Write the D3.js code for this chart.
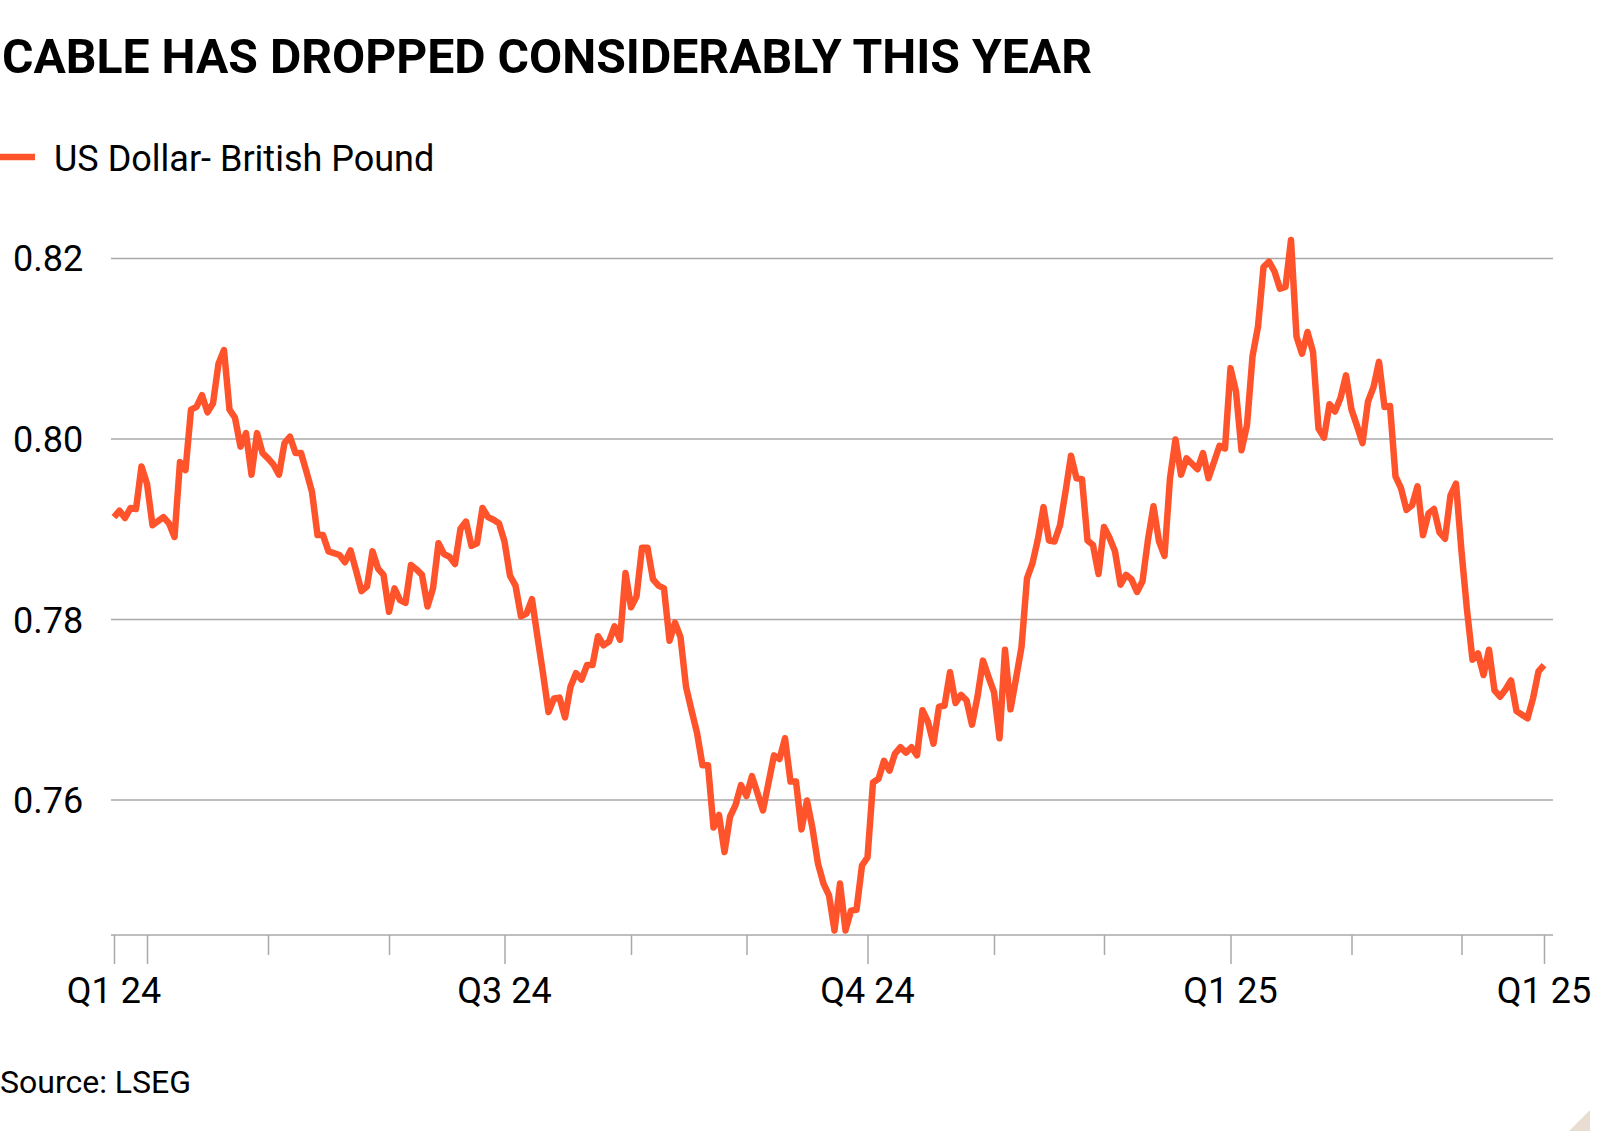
<!DOCTYPE html>
<html>
<head>
<meta charset="utf-8">
<script src="https://cdn.jsdelivr.net/npm/d3@7"></script>
<style>
  body { margin: 0; background: #fff; }
  svg { display: block; }
  text { font-family: Roboto, "Open Sans", sans-serif; fill: #000; }
</style>
</head>
<body>
<svg id="chart" width="1600" height="1143"></svg>
<script>
// daily closes, weekdays only
const dates = [
  "2024-03-22","2024-03-25","2024-03-26","2024-03-27","2024-03-28","2024-03-29",
  "2024-04-01","2024-04-02","2024-04-04","2024-04-05","2024-04-08","2024-04-09","2024-04-10","2024-04-11","2024-04-12",
  "2024-04-15","2024-04-16","2024-04-17","2024-04-18","2024-04-19","2024-04-22","2024-04-23","2024-04-24","2024-04-25","2024-04-26",
  "2024-04-29","2024-04-30","2024-05-01","2024-05-02","2024-05-03","2024-05-06","2024-05-07","2024-05-08","2024-05-09","2024-05-10",
  "2024-05-13","2024-05-14","2024-05-15","2024-05-16","2024-05-20","2024-05-21","2024-05-22","2024-05-23","2024-05-24",
  "2024-05-27","2024-05-28","2024-05-29","2024-05-30","2024-05-31","2024-06-03","2024-06-04","2024-06-05","2024-06-06","2024-06-07",
  "2024-06-10","2024-06-11","2024-06-12","2024-06-13","2024-06-14","2024-06-17","2024-06-18","2024-06-19","2024-06-20","2024-06-21",
  "2024-06-24","2024-06-25","2024-06-26","2024-06-27","2024-06-28","2024-07-01","2024-07-02","2024-07-03","2024-07-04","2024-07-05",
  "2024-07-08","2024-07-09","2024-07-10","2024-07-11","2024-07-12","2024-07-15","2024-07-16","2024-07-17","2024-07-18","2024-07-19",
  "2024-07-22","2024-07-23","2024-07-24","2024-07-25","2024-07-26","2024-07-29","2024-07-30","2024-07-31","2024-08-01","2024-08-02",
  "2024-08-05","2024-08-06","2024-08-07","2024-08-08","2024-08-09","2024-08-12","2024-08-13","2024-08-14","2024-08-15","2024-08-16",
  "2024-08-19","2024-08-20","2024-08-21","2024-08-22","2024-08-23","2024-08-26","2024-08-27","2024-08-28","2024-08-29","2024-08-30",
  "2024-09-02","2024-09-04","2024-09-06","2024-09-09","2024-09-10","2024-09-11","2024-09-12","2024-09-13",
  "2024-09-16","2024-09-17","2024-09-18","2024-09-19","2024-09-20","2024-09-23","2024-09-24","2024-09-25","2024-09-26","2024-09-27",
  "2024-09-30","2024-10-01","2024-10-02","2024-10-03","2024-10-04","2024-10-07","2024-10-08","2024-10-09","2024-10-10","2024-10-11",
  "2024-10-14","2024-10-15","2024-10-16","2024-10-17","2024-10-18","2024-10-21","2024-10-22","2024-10-23","2024-10-24","2024-10-25",
  "2024-10-28","2024-10-29","2024-10-30","2024-10-31","2024-11-01","2024-11-04","2024-11-05","2024-11-06","2024-11-07","2024-11-08",
  "2024-11-11","2024-11-12","2024-11-13","2024-11-14","2024-11-15","2024-11-18","2024-11-19","2024-11-20","2024-11-21","2024-11-22",
  "2024-11-25","2024-11-26","2024-11-27","2024-11-28","2024-11-29","2024-12-02","2024-12-03","2024-12-04","2024-12-05","2024-12-06",
  "2024-12-09","2024-12-10","2024-12-11","2024-12-12","2024-12-13","2024-12-16","2024-12-17","2024-12-18","2024-12-19","2024-12-20",
  "2024-12-23","2024-12-24","2024-12-25","2024-12-26","2024-12-27","2024-12-30","2024-12-31","2025-01-01","2025-01-02","2025-01-03",
  "2025-01-06","2025-01-07","2025-01-08","2025-01-09","2025-01-10","2025-01-13","2025-01-14","2025-01-15","2025-01-16","2025-01-17",
  "2025-01-20","2025-01-21","2025-01-22","2025-01-23","2025-01-24","2025-01-27","2025-01-28","2025-01-29","2025-01-30","2025-01-31",
  "2025-02-03","2025-02-04","2025-02-05","2025-02-06","2025-02-07","2025-02-10","2025-02-11","2025-02-12","2025-02-13","2025-02-14",
  "2025-02-17","2025-02-18","2025-02-19","2025-02-20","2025-02-21","2025-02-24","2025-02-25","2025-02-26","2025-02-27","2025-02-28",
  "2025-03-03","2025-03-04","2025-03-05","2025-03-06","2025-03-07","2025-03-10","2025-03-11","2025-03-12","2025-03-13","2025-03-14",
  "2025-03-17","2025-03-18","2025-03-19","2025-03-20","2025-03-21"
];

const values = [
  0.7913,0.7920,0.7912,0.7923,0.7922,0.7969,
  0.7950,0.7904,0.7913,0.7906,0.7891,0.7974,0.7965,0.8032,0.8035,
  0.8048,0.8029,0.8039,0.8083,0.8098,0.8032,0.8023,0.7991,0.8006,0.7960,
  0.8006,0.7984,0.7978,0.7971,0.7960,0.7995,0.8002,0.7984,0.7984,0.7963,
  0.7941,0.7893,0.7893,0.7875,0.7871,0.7863,0.7876,0.7854,0.7831,
  0.7836,0.7875,0.7856,0.7849,0.7808,0.7834,0.7821,0.7818,0.7860,0.7855,
  0.7849,0.7814,0.7834,0.7884,0.7872,0.7869,0.7861,0.7900,0.7908,0.7881,
  0.7884,0.7923,0.7913,0.7910,0.7906,0.7886,0.7848,0.7837,0.7803,0.7806,
  0.7822,0.7780,0.7740,0.7697,0.7712,0.7713,0.7691,0.7725,0.7740,0.7733,
  0.7749,0.7749,0.7781,0.7771,0.7775,0.7792,0.7777,0.7851,0.7813,0.7825,
  0.7879,0.7879,0.7844,0.7837,0.7834,0.7776,0.7796,0.7780,0.7725,0.7699,
  0.7674,0.7638,0.7638,0.7569,0.7583,0.7542,0.7581,0.7594,0.7616,0.7604,
  0.7626,0.7588,0.7649,0.7645,0.7668,0.7620,0.7620,0.7567,
  0.7599,0.7568,0.7529,0.7507,0.7494,0.7455,0.7507,0.7455,0.7477,0.7478,
  0.7527,0.7536,0.7619,0.7623,0.7643,0.7632,0.7651,0.7658,0.7652,0.7658,
  0.7649,0.7699,0.7686,0.7662,0.7703,0.7704,0.7741,0.7707,0.7716,0.7710,
  0.7683,0.7714,0.7754,0.7736,0.7719,0.7668,0.7766,0.7700,0.7734,0.7769,
  0.7845,0.7862,0.7889,0.7924,0.7887,0.7886,0.7904,0.7941,0.7981,0.7956,
  0.7955,0.7887,0.7882,0.7850,0.7902,0.7890,0.7875,0.7838,0.7849,0.7844,
  0.7830,0.7842,0.7888,0.7925,0.7886,0.7870,0.7956,0.7999,0.7960,0.7978,
  0.7972,0.7966,0.7984,0.7956,0.7974,0.7992,0.7989,0.8078,0.8052,0.7987,
  0.8015,0.8091,0.8124,0.8190,0.8196,0.8185,0.8166,0.8168,0.8220,0.8113,
  0.8094,0.8118,0.8096,0.8011,0.8001,0.8038,0.8030,0.8045,0.8070,0.8032,
  0.8014,0.7995,0.8041,0.8057,0.8085,0.8035,0.8036,0.7958,0.7945,0.7921,
  0.7926,0.7947,0.7893,0.7917,0.7922,0.7896,0.7889,0.7937,0.7950,0.7875,
  0.7810,0.7755,0.7762,0.7738,0.7766,0.7721,0.7714,0.7722,0.7732,0.7698,
  0.7694,0.7690,0.7712,0.7742,0.7749
];

const yTicks = [0.76, 0.78, 0.80, 0.82];
const minorTickDates = ["2024-05-01","2024-06-01","2024-08-01","2024-09-01","2024-11-01","2024-12-01","2025-02-01","2025-03-01"];
const majorTickDates = ["2024-03-22","2024-04-01","2024-07-01","2024-10-01","2025-01-01","2025-03-21"];
const labelDates = ["2024-03-22","2024-07-01","2024-10-01","2025-01-01","2025-03-21"];
const labelTexts = ["Q1 24","Q3 24","Q4 24","Q1 25","Q1 25"];

const seriesName = "US Dollar- British Pound";
const titleText = "CABLE HAS DROPPED CONSIDERABLY THIS YEAR";
const sourceText = "Source: LSEG";

const orange = "#ff532b";
const grey = "#a9a9a9";

const svg = d3.select("#chart");
const parse = d3.timeParse("%Y-%m-%d");
const start = parse(dates[0]);

// position on a weekday (trading day) axis
function tradingIndex(d) {
  return d3.timeDays(start, d3.timeDay.offset(d, 1))
    .filter((day) => day.getDay() % 6 !== 0).length - 1;
}

const points = dates.map((d, i) => ({ t: tradingIndex(parse(d)), v: values[i] }));

const left = 111, right = 1553;
const xScale = d3.scaleLinear()
  .domain([0, tradingIndex(parse(dates[dates.length - 1]))])
  .range([114, 1544]);
const yScale = d3.scaleLinear().domain([0.745, 0.82]).range([935, 258]);

// title
const title = svg.append("text")
  .attr("x", 2).attr("y", 73)
  .attr("font-size", 49).attr("font-weight", 700)
  .text(titleText);
if (title.node().getComputedTextLength() > 1090) {
  title.attr("textLength", 1090).attr("lengthAdjust", "spacingAndGlyphs");
}

// legend
svg.append("line")
  .attr("x1", 0).attr("x2", 35).attr("y1", 157).attr("y2", 157)
  .attr("stroke", orange).attr("stroke-width", 6.5);
svg.append("text").attr("x", 54).attr("y", 171).attr("font-size", 36).text(seriesName);

// gridlines + y labels
const yAxis = svg.append("g")
  .attr("transform", `translate(${left},0)`)
  .call(d3.axisLeft(yScale).tickValues(yTicks).tickSize(-(right - left)).tickFormat(d3.format(".2f")));
yAxis.select(".domain").remove();
yAxis.selectAll(".tick line").attr("stroke", grey).attr("stroke-width", 1.5);
yAxis.selectAll(".tick text")
  .attr("x", -98).attr("dy", "0.36em")
  .attr("text-anchor", "start")
  .attr("font-size", 36).attr("font-family", null).attr("fill", "#000");

// x axis
const axisY = yScale(0.745);
const xg = svg.append("g").attr("transform", `translate(0,${axisY})`);
xg.append("g")
  .call(d3.axisBottom(xScale).tickValues(minorTickDates.map((d) => tradingIndex(parse(d)))).tickSize(20).tickFormat(""));
xg.append("g")
  .call(d3.axisBottom(xScale).tickValues(majorTickDates.map((d) => tradingIndex(parse(d)))).tickSize(29).tickFormat(""));
xg.selectAll(".domain").remove();
xg.selectAll(".tick line").attr("stroke", grey).attr("stroke-width", 1.5);

xg.append("line")
  .attr("x1", left).attr("x2", right).attr("y1", 0).attr("y2", 0)
  .attr("stroke", grey).attr("stroke-width", 1.5);

xg.selectAll(".xlabel")
  .data(labelDates)
  .join("text")
  .attr("class", "xlabel")
  .attr("x", (d) => xScale(tradingIndex(parse(d))))
  .attr("y", 68)
  .attr("text-anchor", "middle")
  .attr("font-size", 36)
  .text((d, i) => labelTexts[i]);

// the series
const line = d3.line().x((d) => xScale(d.t)).y((d) => yScale(d.v));
svg.append("path")
  .datum(points)
  .attr("d", line)
  .attr("fill", "none")
  .attr("stroke", orange)
  .attr("stroke-width", 6.5)
  .attr("stroke-linejoin", "round");

// source
svg.append("text").attr("x", 0).attr("y", 1093).attr("font-size", 32).text(sourceText);

// corner mark
svg.append("polygon")
  .attr("points", "1590,1110 1590,1131 1569,1131")
  .attr("fill", "#e9ddd2");
</script>
</body>
</html>
